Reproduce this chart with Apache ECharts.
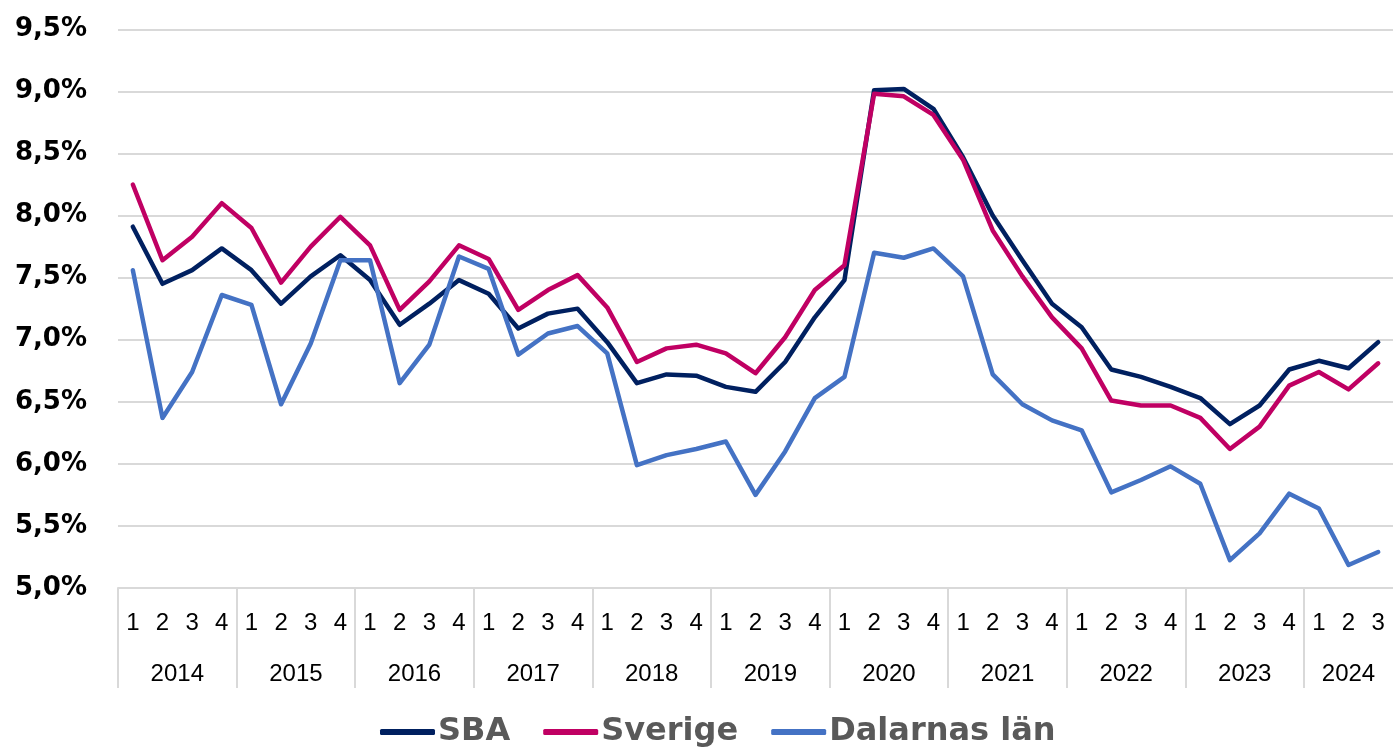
<!DOCTYPE html>
<html>
<head>
<meta charset="utf-8">
<script src="https://cdn.jsdelivr.net/npm/echarts@6/dist/echarts.min.js"></script>
<style>
html,body{margin:0;padding:0;background:#fff;}
#chart{width:1393px;height:754px;}
</style>
</head>
<body>
<div id="chart"></div>
<script>
var years = ['2014','2015','2016','2017','2018','2019','2020','2021','2022','2023','2024'];
var quarterLabels = ['1','2','3','4'];
var seriesNames = ['SBA','Sverige','Dalarnas län'];

var sba = [7.91,7.45,7.56,7.735,7.56,7.29,7.51,7.68,7.48,7.12,7.29,7.48,
  7.37,7.09,7.21,7.25,6.98,6.65,6.72,6.71,6.62,6.58,6.82,7.18,
  7.48,9.01,9.02,8.86,8.47,8.00,7.64,7.29,7.10,6.76,6.70,6.62,
  6.53,6.32,6.47,6.76,6.83,6.77,6.98];
var sverige = [8.25,7.64,7.83,8.10,7.90,7.46,7.75,7.99,7.76,7.24,7.47,7.76,
  7.65,7.24,7.40,7.52,7.26,6.82,6.93,6.96,6.89,6.73,7.02,7.40,
  7.60,8.98,8.96,8.81,8.45,7.88,7.51,7.18,6.93,6.51,6.47,6.47,
  6.37,6.12,6.30,6.63,6.74,6.60,6.81];
var dalarna = [7.56,6.37,6.74,7.36,7.28,6.48,6.97,7.64,7.64,6.65,6.96,7.67,
  7.57,6.88,7.05,7.11,6.89,5.99,6.07,6.12,6.18,5.75,6.10,6.53,
  6.70,7.70,7.66,7.735,7.51,6.72,6.48,6.35,6.27,5.77,5.87,5.98,
  5.84,5.225,5.44,5.76,5.64,5.185,5.29];

// build category labels
var quarterCats = [];
for (var i = 0; i < sba.length; i++) quarterCats.push(quarterLabels[i % 4]);
var halfCats = [];
var totalHalf = sba.length * 2; // 86 half-quarter slots
var yearLabelIdx = {};
for (var y = 0; y < years.length; y++) {
  var startQ = y * 4;
  var endQ = Math.min(startQ + 4, sba.length);
  yearLabelIdx[startQ + endQ] = years[y];
}
for (var k = 0; k <= totalHalf; k++) halfCats.push(yearLabelIdx[k] || '');

var colors = ['#002060', '#C00063', '#4472C4'];
var gridColor = '#d9d9d9';

var chart = echarts.init(document.getElementById('chart'));
chart.setOption({
  animation: false,
  color: colors,
  grid: {left: 118, top: 29.3, width: 1284, height: 558.7, containLabel: false},
  legend: {
    data: seriesNames,
    left: 380, top: 716,
    padding: 0,
    itemGap: 33,
    itemWidth: 55, itemHeight: 6,
    icon: 'roundRect',
    textStyle: {fontFamily: 'DejaVu Sans', fontWeight: 'bold', fontSize: 32, color: '#595959', padding: [0,0,0,-2]}
  },
  xAxis: [{
    type: 'category',
    data: quarterCats,
    boundaryGap: true,
    axisLine: {show: true, lineStyle: {color: gridColor, width: 2}},
    axisTick: {show: false},
    axisLabel: {interval: 0, margin: 23, fontFamily: 'Liberation Sans', fontSize: 24, color: '#000'},
    splitLine: {show: false}
  }, {
    type: 'category',
    data: halfCats,
    boundaryGap: false,
    position: 'bottom',
    axisLine: {show: false},
    axisTick: {show: true, length: 100, interval: function (idx) { return idx % 8 === 0; }, lineStyle: {color: gridColor, width: 2}},
    axisLabel: {interval: function (idx, val) { return val !== ''; }, margin: 74, fontFamily: 'Liberation Sans', fontSize: 24, color: '#000'},
    splitLine: {show: false}
  }],
  yAxis: {
    type: 'value',
    min: 5, max: 9.5, interval: 0.5,
    axisLine: {show: false},
    axisTick: {show: false},
    splitLine: {lineStyle: {color: gridColor, width: 2}},
    axisLabel: {
      margin: 31,
      fontFamily: 'DejaVu Sans', fontWeight: 'bold', fontSize: 26, color: '#000',
      formatter: function (v) { return v.toFixed(1).replace('.', ',') + '%'; }
    }
  },
  series: [
    {name: seriesNames[0], type: 'line', data: sba, symbol: 'none', lineStyle: {width: 4.5, cap: 'round', join: 'round'}},
    {name: seriesNames[1], type: 'line', data: sverige, symbol: 'none', lineStyle: {width: 4.5, cap: 'round', join: 'round'}},
    {name: seriesNames[2], type: 'line', data: dalarna, symbol: 'none', lineStyle: {width: 4.5, cap: 'round', join: 'round'}}
  ]
});
</script>
</body>
</html>
